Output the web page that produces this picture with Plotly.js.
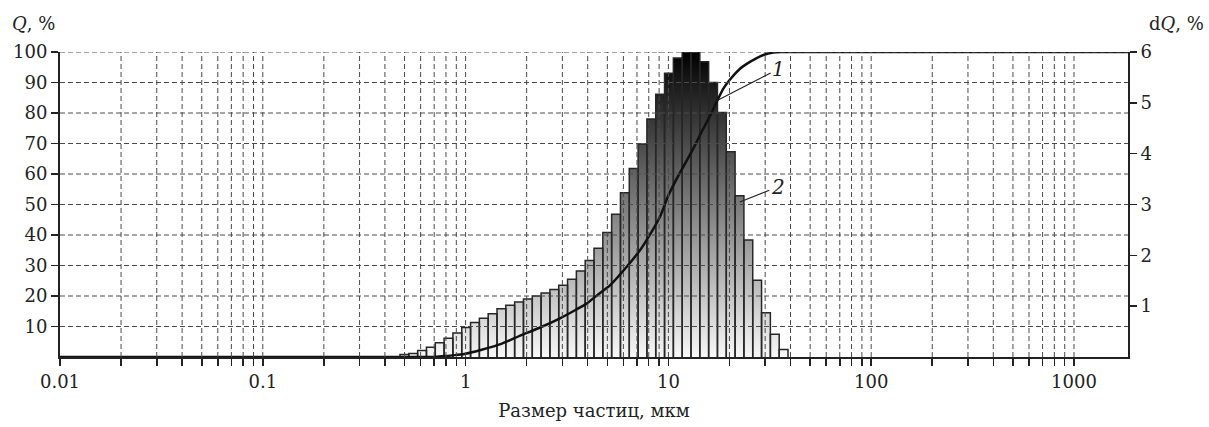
<!DOCTYPE html>
<html><head><meta charset="utf-8">
<script src="https://cdn.plot.ly/plotly-3.0.1.min.js"></script>
<style>html,body{margin:0;padding:0;background:#fff}</style>
</head><body><div id="chart" style="width:1209px;height:427px"></div>
<script>
// Histogram bin edges, micrometres (log-spaced bins)
const binEdges = [0.4748, 0.5248, 0.5801, 0.6412, 0.7087, 0.7833, 0.8658, 0.9570, 1.0578, 1.1692,
  1.2923, 1.4284, 1.5788, 1.7451, 1.9289, 2.1320, 2.3565, 2.6047, 2.8790, 3.1822,
  3.5173, 3.8877, 4.2971, 4.7496, 5.2498, 5.8026, 6.4137, 7.0891, 7.8356, 8.6608,
  9.5728, 10.581, 11.695, 12.926, 14.288, 15.792, 17.455, 19.293, 21.325, 23.571,
  26.053, 28.796, 31.829, 35.181, 38.886];
// dQ, % for each bin (curve 2)
const dQ = [0.05, 0.07, 0.13, 0.19, 0.28, 0.37, 0.47, 0.58, 0.68, 0.76,
  0.85, 0.95, 1.02, 1.08, 1.14, 1.20, 1.26, 1.33, 1.41, 1.53,
  1.69, 1.90, 2.14, 2.45, 2.81, 3.23, 3.71, 4.19, 4.68, 5.17,
  5.58, 5.88, 6.00, 6.00, 5.81, 5.40, 4.81, 4.04, 3.17, 2.30,
  1.51, 0.87, 0.45, 0.15];
// Cumulative curve Q, % (curve 1)
const curveSize = [0.01, 0.7, 0.8, 0.9, 1.0, 1.2, 1.5, 1.86, 2.3, 2.92, 3.5, 3.95, 4.5, 5.15,
  6.23, 7.24, 8.0, 9.09, 10, 11, 12.1, 13.27, 14.5, 16.03, 17.31, 18.66, 20.13, 22.55,
  24.33, 27.26, 29.4, 32.9, 36, 2000];
const curveQ = [0, 0, 0.3, 0.7, 1.1, 2.4, 4.3, 7.0, 9.5, 12.7, 15.5, 17.5, 20.5, 23.5,
  29.6, 35, 39.5, 46, 53, 58.5, 63.5, 68.3, 73.5, 79, 83.7, 88.0, 91.0, 94.5,
  96.1, 98.0, 99.0, 99.8, 100, 100];
// Axis ticks
const decades = [0.01, 0.1, 1, 10, 100, 1000];
const decadeLabels = ['0.01', '0.1', '1', '10', '100', '1000'];
const qTicks = [10, 20, 30, 40, 50, 60, 70, 80, 90, 100];
const dqTicks = [1, 2, 3, 4, 5, 6];

const FONT = 'DejaVu Serif';
const xTickVals = [], xTickText = [];
decades.forEach((d, i) => {
  for (let m = 1; m <= 9; m++) {
    const v = +(d * m).toPrecision(6);
    if (v > 1850) break;
    xTickVals.push(v);
    xTickText.push(m === 1 ? decadeLabels[i] : '');
  }
});

// filled step area (gradient)
const fillTrace = {
  type: 'scatter', mode: 'lines', xaxis: 'x', yaxis: 'y',
  x: binEdges, y: dQ.concat([dQ[dQ.length - 1]]),
  line: {shape: 'hv', width: 0, color: 'rgba(0,0,0,0)'},
  fill: 'tozeroy',
  fillgradient: {type: 'vertical', colorscale: [[0, '#f7f7f7'], [1, '#000000']], start: 0, stop: 6},
  hoverinfo: 'skip', showlegend: false
};
// bar outlines
const ox = [], oy = [];
dQ.forEach((h, i) => {
  ox.push(binEdges[i], binEdges[i], binEdges[i + 1], binEdges[i + 1], null);
  oy.push(0, h, h, 0, null);
});
const outlineTrace = {
  type: 'scatter', mode: 'lines', xaxis: 'x', yaxis: 'y',
  x: ox, y: oy, line: {color: '#262626', width: 1.5}, hoverinfo: 'skip', showlegend: false
};
const curveTrace = {
  type: 'scatter', mode: 'lines', xaxis: 'x', yaxis: 'y2',
  x: curveSize, y: curveQ, line: {color: '#111', width: 2.5, shape: 'spline', smoothing: 0.5},
  showlegend: false
};

const shapes = [];
const grid = {color: '#4a4a4a', width: 1, dash: '5px,3px'};
xTickVals.forEach(v => {
  if (v <= 0.0100001) return;
  shapes.push({type: 'line', xref: 'x', yref: 'paper', x0: v, x1: v, y0: 0, y1: 1, line: grid, layer: 'above'});
});
qTicks.forEach(v => {
  shapes.push({type: 'line', xref: 'paper', yref: 'y2', x0: 0, x1: 1, y0: v, y1: v, line: grid, layer: 'above'});
});

const tickFont = {family: FONT, size: 18, color: '#222'};
const layout = {
  width: 1209, height: 427,
  margin: {l: 60, r: 81, t: 52, b: 70},
  paper_bgcolor: '#fff', plot_bgcolor: '#fff',
  showlegend: false,
  xaxis: {
    type: 'log', range: [-2, 3.2663],
    tickmode: 'array', tickvals: xTickVals, ticktext: xTickText,
    ticks: 'outside', ticklen: 7, tickwidth: 1.5, tickcolor: '#222',
    showgrid: false, zeroline: false,
    showline: true, linecolor: '#222', linewidth: 2,
    tickfont: tickFont,
    title: {text: 'Размер частиц, мкм', font: {family: FONT, size: 18, color: '#222'}, standoff: 14}
  },
  yaxis: {
    range: [0, 6], side: 'right',
    tickmode: 'array', tickvals: dqTicks,
    ticks: 'outside', ticklen: 7, tickwidth: 1.5, tickcolor: '#222',
    showgrid: false, zeroline: false,
    showline: true, linecolor: '#222', linewidth: 2,
    tickfont: tickFont
  },
  yaxis2: {
    range: [0, 100], side: 'left', overlaying: 'y',
    tickmode: 'array', tickvals: qTicks,
    ticks: 'outside', ticklen: 7, tickwidth: 1.5, tickcolor: '#222',
    showgrid: false, zeroline: false,
    showline: true, linecolor: '#222', linewidth: 2,
    tickfont: tickFont
  },
  shapes: shapes,
  annotations: [
    {xref: 'paper', yref: 'paper', x: -0.047, y: 1.095, xanchor: 'left', yanchor: 'middle',
      text: '<i>Q</i>, %', showarrow: false, font: {family: FONT, size: 18, color: '#222'}},
    {xref: 'paper', yref: 'paper', x: 1.073, y: 1.095, xanchor: 'right', yanchor: 'middle',
      text: 'd<i>Q</i>, %', showarrow: false, font: {family: FONT, size: 18, color: '#222'}},
    {xref: 'x', yref: 'y2', x: Math.log10(17.3), y: 84, ax: 62, ay: -32,
      text: '<i>1</i>', showarrow: true, arrowhead: 0, arrowwidth: 1.2, arrowcolor: '#222',
      font: {family: FONT, size: 20, color: '#222'}},
    {xref: 'x', yref: 'y', x: Math.log10(22.5), y: 3.05, ax: 38, ay: -15,
      text: '<i>2</i>', showarrow: true, arrowhead: 0, arrowwidth: 1.2, arrowcolor: '#222',
      font: {family: FONT, size: 20, color: '#222'}}
  ]
};
Plotly.newPlot('chart', [fillTrace, outlineTrace, curveTrace], layout, {staticPlot: true});
</script></body></html>
